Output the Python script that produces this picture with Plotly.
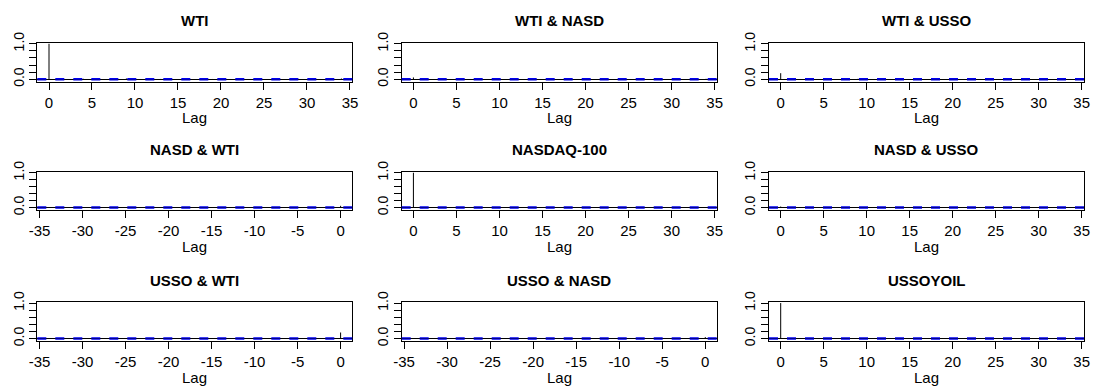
import plotly.graph_objects as go

# ---------------- data ----------------
lags_pos = list(range(0, 36))
lags_neg = list(range(-35, 1))
ticks_pos = [0, 5, 10, 15, 20, 25, 30, 35]
ticks_neg = [-35, -30, -25, -20, -15, -10, -5, 0]

acf_wti = [1.000, 0.030, -0.010, 0.004, 0.012, -0.008,
           0.006, -0.012, 0.010, 0.022, -0.006, 0.003,
           -0.015, 0.008, 0.005, -0.004, 0.011, -0.009,
           0.002, 0.007, -0.013, 0.006, 0.004, -0.002,
           0.009, -0.011, 0.003, 0.005, -0.007, 0.010,
           -0.004, 0.006, -0.008, 0.004, 0.020, -0.005]
acf_wti_nasd = [0.050, 0.008, -0.006, 0.004, -0.010, 0.006,
                0.003, -0.005, 0.007, -0.004, 0.002, 0.005,
                -0.008, 0.006, 0.012, -0.003, 0.004, -0.006,
                0.010, -0.002, 0.005, -0.007, 0.014, 0.003,
                -0.004, 0.006, -0.005, 0.002, 0.004, -0.006,
                0.003, -0.002, 0.005, 0.004, 0.012, -0.003]
acf_wti_usso = [0.170, 0.020, 0.006, -0.008, 0.005, 0.004,
                -0.006, 0.003, 0.007, 0.012, -0.005, 0.004,
                0.002, -0.007, 0.005, 0.003, -0.004, 0.006,
                -0.003, 0.004, 0.005, -0.006, 0.003, 0.002,
                -0.005, 0.004, 0.006, -0.003, 0.002, 0.005,
                -0.004, 0.003, 0.004, -0.002, 0.005, 0.003]
acf_nasd_wti = [0.004, -0.003, 0.005, 0.002, -0.006, 0.004,
                0.003, 0.012, -0.005, 0.004, 0.002, -0.003,
                0.005, -0.004, 0.006, 0.003, -0.005, 0.002,
                0.004, -0.006, 0.005, 0.003, 0.011, -0.004,
                0.002, 0.005, 0.010, -0.003, 0.004, -0.005,
                0.003, 0.006, -0.004, 0.002, 0.008, 0.050]
acf_nasd = [1.000, -0.020, 0.008, -0.006, 0.010, -0.012,
            0.005, 0.007, -0.004, 0.006, -0.008, 0.004,
            0.003, -0.006, 0.009, -0.003, 0.005, 0.004,
            -0.007, 0.006, 0.003, -0.005, 0.004, 0.007,
            -0.004, 0.005, -0.006, 0.003, 0.008, -0.003,
            0.004, -0.005, 0.006, 0.003, -0.004, 0.005]
acf_nasd_usso = [0.030, 0.006, -0.004, 0.005, 0.003, -0.006,
                 0.004, 0.002, -0.005, 0.006, 0.003, -0.004,
                 0.005, -0.003, 0.004, 0.006, -0.005, 0.003,
                 0.002, -0.004, 0.005, 0.003, -0.006, 0.004,
                 0.002, 0.005, -0.003, 0.004, -0.005, 0.003,
                 0.006, -0.004, 0.002, 0.005, -0.003, 0.004]
acf_usso_wti = [0.004, 0.003, 0.010, -0.005, 0.004, 0.002,
                -0.006, 0.005, 0.003, -0.004, 0.006, 0.002,
                0.004, -0.005, 0.003, 0.005, -0.004, 0.006,
                0.002, -0.003, 0.005, 0.004, -0.006, 0.003,
                0.005, -0.004, 0.002, 0.006, -0.003, 0.004,
                0.005, 0.010, -0.004, 0.003, 0.020, 0.170]
acf_usso_nasd = [0.003, -0.004, 0.005, 0.002, -0.003, 0.006,
                 0.004, -0.005, 0.003, 0.002, 0.005, -0.004,
                 0.006, 0.003, -0.005, 0.004, 0.002, -0.003,
                 0.005, -0.006, 0.004, 0.003, 0.012, -0.004,
                 0.005, 0.002, -0.003, 0.004, 0.006, -0.005,
                 0.003, 0.010, -0.004, 0.002, 0.006, 0.040]
acf_usso = [1.000, 0.015, -0.008, 0.006, -0.005, 0.009,
            0.004, -0.007, 0.005, 0.003, -0.006, 0.008,
            0.002, -0.004, 0.006, 0.005, -0.008, 0.003,
            0.004, -0.005, 0.007, 0.002, -0.003, 0.006,
            0.004, -0.006, 0.003, 0.005, 0.010, -0.004,
            0.003, 0.006, -0.005, 0.004, 0.002, -0.003]

conf_limit = 0.02

titles = ["WTI", "WTI & NASD", "WTI & USSO",
          "NASD & WTI", "NASDAQ-100", "NASD & USSO",
          "USSO & WTI", "USSO & NASD", "USSOYOIL"]
panel_values = [acf_wti, acf_wti_nasd, acf_wti_usso,
                acf_nasd_wti, acf_nasd, acf_nasd_usso,
                acf_usso_wti, acf_usso_nasd, acf_usso]
panel_lags = [lags_pos, lags_pos, lags_pos,
              lags_neg, lags_pos, lags_pos,
              lags_neg, lags_neg, lags_pos]

# ---------------- layout geometry (pixels of a 1093x389 canvas) ----------------
W, H = 1093, 389
col_px = [(37.3, 352.3), (401.7, 717.0), (769.0, 1084.0)]
row_px = [(42.7, 81.7), (171.7, 210.0), (302.0, 341.0)]

FONT = "Liberation Sans, Arial, sans-serif"

fig = go.Figure()
annotations = []
shapes = []

for k in range(9):
    r, c = divmod(k, 3)
    n = k + 1
    xa = "x" if n == 1 else f"x{n}"
    ya = "y" if n == 1 else f"y{n}"
    lags = panel_lags[k]
    vals = panel_values[k]

    xs, ys = [], []
    for lg, v in zip(lags, vals):
        xs += [lg, lg, None]
        ys += [0, v, None]
    fig.add_trace(go.Scatter(x=xs, y=ys, mode="lines",
                             line=dict(color="black", width=1),
                             xaxis=xa, yaxis=ya, showlegend=False,
                             hoverinfo="skip"))

    x0p, x1p = col_px[c]
    y0p, y1p = row_px[r]
    xdom = [x0p / W, x1p / W]
    ydom = [1 - y1p / H, 1 - y0p / H]

    if lags[0] >= 0:
        xr = [-1.36, 35.27]
        tv = ticks_pos
    else:
        xr = [-35.27, 1.36]
        tv = ticks_neg

    xkey = "xaxis" if n == 1 else f"xaxis{n}"
    ykey = "yaxis" if n == 1 else f"yaxis{n}"
    fig.layout[xkey] = dict(
        domain=xdom, anchor=ya, range=xr, tickvals=tv,
        ticktext=[str(t) for t in tv], automargin=False,
        showgrid=False, zeroline=False, showline=True, mirror=True,
        linecolor="black", linewidth=1, ticks="outside", ticklen=7,
        tickcolor="black", tickfont=dict(family=FONT, size=15, color="black"),
    )
    fig.layout[ykey] = dict(
        domain=ydom, anchor=xa, range=[-0.07, 1.03], automargin=False,
        tickvals=[0, 0.2, 0.4, 0.6, 0.8, 1.0],
        ticktext=["0.0", "", "", "", "", "1.0"], tickangle=-90,
        showgrid=False, zeroline=True, zerolinecolor="black", zerolinewidth=1,
        showline=True, mirror=True, linecolor="black", linewidth=1,
        ticks="outside", ticklen=7, tickcolor="black",
        tickfont=dict(family=FONT, size=14, color="black"),
    )

    for lim in (conf_limit, -conf_limit):
        shapes.append(dict(type="line", xref=f"{xa} domain", yref=ya,
                           x0=0, x1=1, y0=lim, y1=lim,
                           line=dict(color="#0000EE", width=1.2, dash="dash")))

    cx = (xdom[0] + xdom[1]) / 2
    annotations.append(dict(text=f"<b>{titles[k]}</b>", x=cx, y=1 - (y0p - 22) / H,
                            xref="paper", yref="paper", showarrow=False,
                            xanchor="center", yanchor="middle",
                            font=dict(family=FONT, size=15, color="black")))
    annotations.append(dict(text="Lag", x=cx, y=1 - (y1p + 36) / H,
                            xref="paper", yref="paper", showarrow=False,
                            xanchor="center", yanchor="middle",
                            font=dict(family=FONT, size=15, color="black")))

fig.update_layout(width=W, height=H, margin=dict(l=0, r=0, t=0, b=0),
                  paper_bgcolor="white", plot_bgcolor="white",
                  annotations=annotations, shapes=shapes, showlegend=False)

fig.write_html("out.html", config={"displayModeBar": False},
               post_script="document.body.style.margin='0px';document.body.style.padding='0px';document.body.style.overflow='hidden';")
